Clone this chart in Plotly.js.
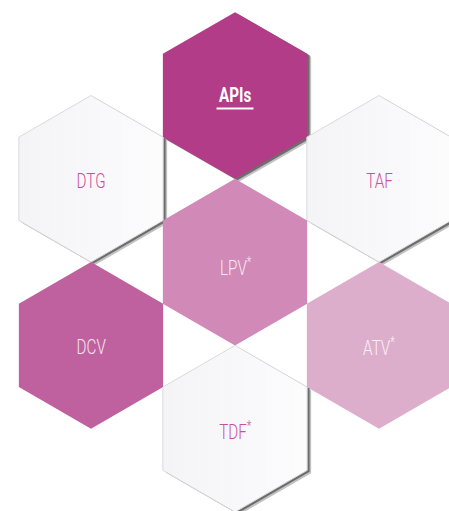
<!DOCTYPE html>
<html>
<head>
<meta charset="utf-8">
<script src="https://cdn.plot.ly/plotly-3.0.1.min.js"></script>
<style>
html,body{margin:0;padding:0;background:#fff;}
#chart{width:449px;height:511px;}
#chart text.annotation-text{transform:scaleX(0.76);transform-box:fill-box;transform-origin:center;}
</style>
</head>
<body>
<div id="chart"></div>
<script>
// Data
const labels = ['APIs', 'DTG', 'TAF', 'LPV<sup>*</sup>', 'DCV', 'ATV<sup>*</sup>', 'TDF<sup>*</sup>'];
const gridCol = [1, 0, 2, 1, 0, 2, 1];
const gridRow = [0, 1, 1, 2, 3, 3, 4];
const fills = ['#b23c87', '#f7f7f9', '#f7f7f9', '#d189b7', '#c0619f', '#ddaecc', '#f7f7f9'];
const textColors = ['#ffffff', '#c9509b', '#c9509b', '#f7eaf2', '#f5e6f0', '#faf0f6', '#c9509b'];
const shadowed = [true, true, true, false, false, false, true];
const outlined = [false, true, true, false, false, false, true];

// Layout constants
const X0 = 91, Y0 = 95.5, DX = 144, R = 83.3;

function hexPath(cx, cy, dx, dy) {
  const xs = [], ys = [];
  for (let k = 0; k <= 6; k++) {
    const a = (-90 + 60 * k) * Math.PI / 180;
    xs.push(cx + dx + R * Math.cos(a));
    ys.push(cy + dy + R * Math.sin(a));
  }
  return {xs, ys};
}

const traces = [];
const annotations = [];
const shapes = [];

labels.forEach((lab, i) => {
  const cx = X0 + gridCol[i] * DX;
  const cy = Y0 + gridRow[i] * R;
  if (shadowed[i]) {
    const s1 = hexPath(cx, cy, 4, 3);
    traces.push({x: s1.xs, y: s1.ys, type: 'scatter', mode: 'lines', fill: 'toself',
      fillcolor: 'rgba(120,120,120,0.45)', line: {width: 0}, hoverinfo: 'skip'});
    const s2 = hexPath(cx, cy, 2.5, 1.5);
    traces.push({x: s2.xs, y: s2.ys, type: 'scatter', mode: 'lines', fill: 'toself',
      fillcolor: 'rgba(100,100,100,0.9)', line: {width: 0}, hoverinfo: 'skip'});
  }
  const h = hexPath(cx, cy, 0, 0);
  const tr = {x: h.xs, y: h.ys, type: 'scatter', mode: 'lines', fill: 'toself',
    fillcolor: fills[i], line: {width: outlined[i] ? 1 : 0, color: '#dadadc'}, hoverinfo: 'skip'};
  if (outlined[i]) {
    tr.fillgradient = {type: 'horizontal', colorscale: [[0, '#f4f4f7'], [1, '#fcfcfd']]};
  }
  traces.push(tr);
  const isTitle = i === 0;
  const dy = isTitle ? -1 : (gridRow[i] === 2 ? 5 : 2);
  annotations.push({
    x: cx, y: cy + dy, xref: 'x', yref: 'y', showarrow: false,
    text: lab,
    font: {family: 'Roboto, DejaVu Sans, sans-serif',
      size: 20, weight: isTitle ? 700 : 300, color: textColors[i]},
    xanchor: 'center', yanchor: 'middle'
  });
  if (isTitle) {
    shapes.push({type: 'line', xref: 'x', yref: 'y', x0: cx - 18.5, x1: cx + 18.5,
      y0: cy + 13, y1: cy + 13, line: {color: '#ffffff', width: 2}});
  }
});

const layout = {
  width: 449, height: 511,
  margin: {l: 0, r: 0, t: 0, b: 0, pad: 0},
  paper_bgcolor: '#ffffff', plot_bgcolor: '#ffffff',
  showlegend: false,
  xaxis: {range: [0, 449], visible: false, fixedrange: true},
  yaxis: {range: [511, 0], visible: false, fixedrange: true},
  annotations: annotations,
  shapes: shapes
};

Plotly.newPlot('chart', traces, layout, {staticPlot: true, displayModeBar: false});
</script>
</body>
</html>
